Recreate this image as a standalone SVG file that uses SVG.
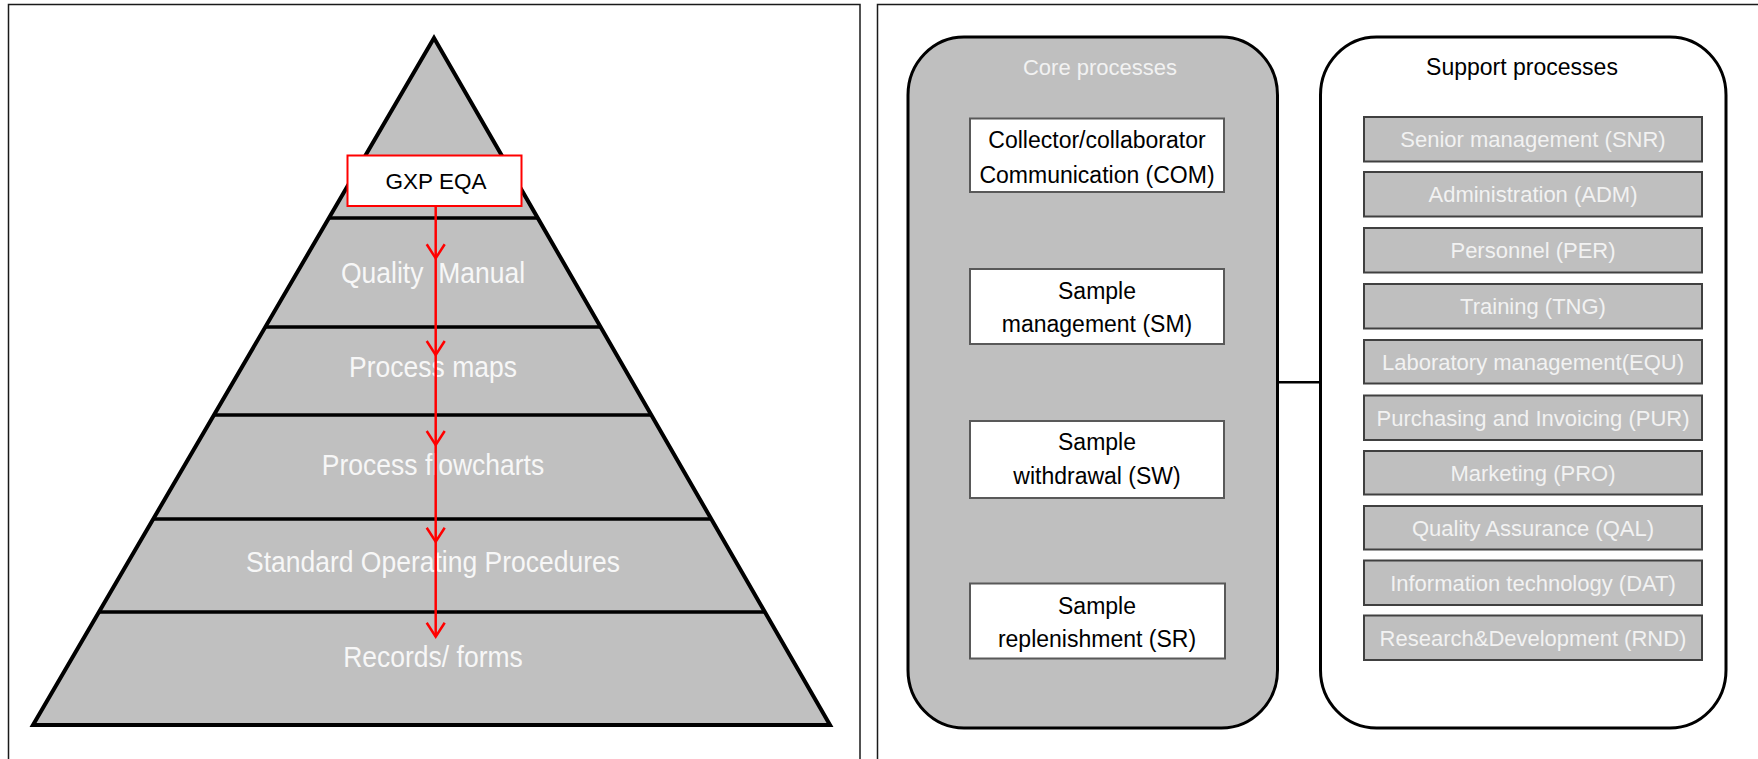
<svg xmlns="http://www.w3.org/2000/svg" width="1758" height="759" viewBox="0 0 1758 759">
<style>
text{font-family:"Liberation Sans",Arial,sans-serif;}
.frame{fill:#ffffff;stroke:#1a1a1a;stroke-width:1.5;}
.pyr{fill:#c0c0c0;stroke:#000;stroke-width:4;stroke-linejoin:miter;}
.div{stroke:#000;stroke-width:3.5;}
.plabel{font-size:26.5px;fill:#f7f7f7;text-anchor:middle;white-space:pre;}
.red{stroke:#ff0000;stroke-width:2.5;fill:none;}
.gxp{fill:#ffffff;stroke:#ff0000;stroke-width:2;}
.btxt{font-size:22.5px;fill:#000;text-anchor:middle;}
.core{fill:#bfbfbf;stroke:#000;stroke-width:3;}
.supp{fill:#ffffff;stroke:#000;stroke-width:3;}
.cbox{fill:#ffffff;stroke:#595959;stroke-width:2;}
.ctxt{font-size:23px;fill:#000;text-anchor:middle;}
.sbox{fill:#bfbfbf;stroke:#404040;stroke-width:2;}
.stxt{font-size:22px;fill:#f2f2f2;text-anchor:middle;}
.tick{stroke:#262626;stroke-width:1.6;}
.conn{stroke:#000;stroke-width:2.5;}
</style>
<defs>
<marker id="vhead" markerUnits="userSpaceOnUse" viewBox="-16 -11 18 22" refX="0" refY="0" markerWidth="18" markerHeight="22" orient="auto" overflow="visible">
<path d="M-14,-9 L0,0 L-14,9" fill="none" stroke="#ff0000" stroke-width="2.5"/>
</marker>
</defs>
<rect width="1758" height="759" fill="#ffffff"/>
<rect class="frame" x="8.5" y="4.5" width="851.5" height="780"/>
<rect class="frame" x="877.5" y="4.5" width="900" height="780"/>

<g id="pyramid">
<polygon class="pyr" points="434,38 830,725 33,725"/>
<line class="div" x1="328.9" y1="218" x2="537.8" y2="218"/>
<line class="div" x1="265.3" y1="327" x2="600.6" y2="327"/>
<line class="div" x1="213.9" y1="415" x2="651.3" y2="415"/>
<line class="div" x1="153.2" y1="519" x2="711.3" y2="519"/>
<line class="div" x1="99" y1="612" x2="764.9" y2="612"/>
</g>
<g id="level-quality-manual"><text class="plabel" transform="translate(433,283) scale(1,1.12)">Quality  Manual</text></g>
<g id="level-process-maps"><text class="plabel" transform="translate(433,377) scale(1,1.12)">Process maps</text></g>
<g id="level-process-flowcharts"><text class="plabel" transform="translate(433,475) scale(1,1.12)">Process flowcharts</text></g>
<g id="level-sop"><text class="plabel" transform="translate(433,572) scale(1,1.12)">Standard Operating Procedures</text></g>
<g id="level-records"><text class="plabel" transform="translate(433,667) scale(1,1.12)">Records/ forms</text></g>

<g id="connectors">
<line class="red" x1="435.7" y1="206.5" x2="435.7" y2="258.3" marker-end="url(#vhead)"/>
<line class="red" x1="435.7" y1="258.3" x2="435.7" y2="355" marker-end="url(#vhead)"/>
<line class="red" x1="435.7" y1="355" x2="435.7" y2="445" marker-end="url(#vhead)"/>
<line class="red" x1="435.7" y1="445" x2="435.7" y2="541.7" marker-end="url(#vhead)"/>
<line class="red" x1="435.7" y1="541.7" x2="435.7" y2="636.7" marker-end="url(#vhead)"/>
<line class="conn" x1="1277" y1="382.3" x2="1320.5" y2="382.3"/>
<line class="tick" x1="1320.5" y1="139" x2="1364" y2="139"/>
<line class="tick" x1="1320.5" y1="194" x2="1364" y2="194"/>
<line class="tick" x1="1320.5" y1="250" x2="1364" y2="250"/>
<line class="tick" x1="1320.5" y1="306" x2="1364" y2="306"/>
<line class="tick" x1="1320.5" y1="362" x2="1364" y2="362"/>
<line class="tick" x1="1320.5" y1="417.5" x2="1364" y2="417.5"/>
<line class="tick" x1="1320.5" y1="473" x2="1364" y2="473"/>
<line class="tick" x1="1320.5" y1="528" x2="1364" y2="528"/>
<line class="tick" x1="1320.5" y1="583" x2="1364" y2="583"/>
<line class="tick" x1="1320.5" y1="638" x2="1364" y2="638"/>
</g>

<g id="gxp-eqa">
<rect class="gxp" x="347.5" y="155.5" width="174" height="50.5"/>
<text class="btxt" x="436" y="189">GXP EQA</text>
</g>

<g id="core-processes">
<rect class="core" x="908" y="37" width="369.5" height="691" rx="56" ry="58"/>
<text class="stxt" x="1100" y="75">Core processes</text>
</g>
<g id="support-processes">
<rect class="supp" x="1320.5" y="37" width="405.5" height="691" rx="56" ry="58"/>
<text class="ctxt" x="1522" y="75" font-size="22">Support processes</text>
</g>

<g id="core-com">
<rect class="cbox" x="970" y="118.5" width="254" height="73.5"/>
<text class="ctxt" x="1097" y="148.3">Collector/collaborator</text>
<text class="ctxt" x="1097" y="182.7">Communication (COM)</text>
</g>
<g id="core-sm">
<rect class="cbox" x="970" y="269" width="254" height="75"/>
<text class="ctxt" x="1097" y="299">Sample</text>
<text class="ctxt" x="1097" y="332.3">management (SM)</text>
</g>
<g id="core-sw">
<rect class="cbox" x="970" y="421" width="254" height="77"/>
<text class="ctxt" x="1097" y="450">Sample</text>
<text class="ctxt" x="1097" y="484">withdrawal (SW)</text>
</g>
<g id="core-sr">
<rect class="cbox" x="970" y="583.5" width="255" height="75"/>
<text class="ctxt" x="1097" y="614.3">Sample</text>
<text class="ctxt" x="1097" y="646.7">replenishment (SR)</text>
</g>

<g id="sup-snr"><rect class="sbox" x="1364" y="117" width="338" height="44.5"/><text class="stxt" x="1533" y="147">Senior management (SNR)</text></g>
<g id="sup-adm"><rect class="sbox" x="1364" y="172" width="338" height="44.5"/><text class="stxt" x="1533" y="202">Administration (ADM)</text></g>
<g id="sup-per"><rect class="sbox" x="1364" y="228" width="338" height="44.5"/><text class="stxt" x="1533" y="258">Personnel (PER)</text></g>
<g id="sup-tng"><rect class="sbox" x="1364" y="284" width="338" height="44.5"/><text class="stxt" x="1533" y="314">Training (TNG)</text></g>
<g id="sup-equ"><rect class="sbox" x="1364" y="340" width="338" height="43.5"/><text class="stxt" x="1533" y="370">Laboratory management(EQU)</text></g>
<g id="sup-pur"><rect class="sbox" x="1364" y="395.5" width="338" height="44.5"/><text class="stxt" x="1533" y="425.5">Purchasing and Invoicing (PUR)</text></g>
<g id="sup-pro"><rect class="sbox" x="1364" y="451" width="338" height="43.5"/><text class="stxt" x="1533" y="481">Marketing (PRO)</text></g>
<g id="sup-qal"><rect class="sbox" x="1364" y="506" width="338" height="43.5"/><text class="stxt" x="1533" y="536">Quality Assurance (QAL)</text></g>
<g id="sup-dat"><rect class="sbox" x="1364" y="560.5" width="338" height="44.5"/><text class="stxt" x="1533" y="590.5">Information technology (DAT)</text></g>
<g id="sup-rnd"><rect class="sbox" x="1364" y="615.5" width="338" height="44.5"/><text class="stxt" x="1533" y="645.5">Research&amp;Development (RND)</text></g>
</svg>
